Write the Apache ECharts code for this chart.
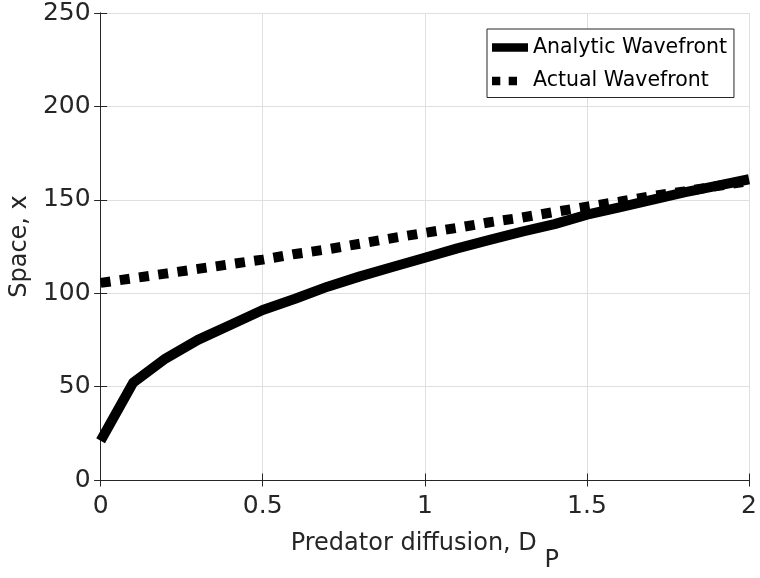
<!DOCTYPE html>
<html>
<head>
<meta charset="utf-8">
<script src="https://cdn.jsdelivr.net/npm/echarts@6/dist/echarts.min.js"></script>
<style>html,body{margin:0;padding:0;background:#fff}#c{width:760px;height:578px}</style>
</head>
<body>
<div id="c"></div>
<script>
const diffusion = [0, 0.1, 0.2, 0.3, 0.4, 0.5, 0.6, 0.7, 0.8, 0.9, 1.0, 1.1, 1.2, 1.3, 1.4, 1.5, 1.6, 1.7, 1.8, 1.9, 2.0];
const analytic = [21, 52, 65, 75, 83, 91, 97, 103.5, 109, 114, 119, 124, 128.5, 133, 137, 142, 146, 150, 154, 157.5, 161];
const actual = [105.5, 108, 110.5, 113, 115.5, 118, 121, 123.5, 126.5, 129.5, 132.3, 135, 138, 140.5, 143.5, 146.3, 149, 152, 154.5, 157.3, 160];
const xTicks = [0, 0.5, 1, 1.5, 2];
const yTicks = [0, 50, 100, 150, 200, 250];
const seriesNames = ['Analytic Wavefront', 'Actual Wavefront'];

const pairs = (ys) => diffusion.map((d, i) => [d, ys[i]]);
const txt = '#262626';
const font = '"DejaVu Sans", Verdana, sans-serif';

const chart = echarts.init(document.getElementById('c'), null, {renderer: 'canvas'});
const baseAxis = {
  axisLine: {show: true, lineStyle: {color: txt, width: 1}},
  axisTick: {show: true, inside: true, length: 6.5, lineStyle: {color: txt}},
  splitLine: {show: false},
  axisLabel: {show: false}
};
chart.setOption({
  animation: false,
  backgroundColor: '#fff',
  grid: {left: 98, right: 10, top: 13, bottom: 91, containLabel: false},
  legend: {
    orient: 'vertical',
    left: 487, top: 29,
    padding: [8, 7, 6, 5],
    itemGap: 12.5,
    itemWidth: 36,
    itemHeight: 8.5,
    borderColor: txt,
    borderWidth: 1,
    backgroundColor: '#fff',
    itemStyle: {color: '#000', borderWidth: 0},
    textStyle: {fontFamily: font, fontSize: 20.5, color: '#000'},
    data: [
      {name: seriesNames[0], icon: 'path://M0,0H36V8.5H0Z'},
      {name: seriesNames[1], icon: 'path://M0,0H8.3V8.5H0Z M16.7,0H25V8.5H16.7Z M36,8.5'}
    ]
  },
  xAxis: [
    Object.assign({}, baseAxis, {
      type: 'value', min: xTicks[0], max: xTicks[xTicks.length - 1], interval: 0.5,
      position: 'bottom',
      splitLine: {show: true, lineStyle: {color: '#dfdfdf', width: 1}},
      axisLabel: {show: true, color: txt, fontFamily: font, fontSize: 25, margin: 14,
        formatter: v => String(v)},
      name: '{a|Predator diffusion, D }{s|P}',
      nameLocation: 'middle',
      nameGap: 52,
      nameTextStyle: {
        color: txt, fontFamily: font, fontSize: 24,
        rich: {
          a: {fontFamily: font, fontSize: 24, lineHeight: 24, color: txt, verticalAlign: 'top'},
          s: {fontFamily: font, fontSize: 24, lineHeight: 24, color: txt, verticalAlign: 'top', padding: [17, 0, 0, 0]}
        }
      }
    }),
    Object.assign({}, baseAxis, {
      type: 'value', min: 0, max: 2, interval: 0.5, position: 'top'
    })
  ],
  yAxis: [
    Object.assign({}, baseAxis, {
      type: 'value', min: yTicks[0], max: yTicks[yTicks.length - 1], interval: 50,
      position: 'left',
      splitLine: {show: true, lineStyle: {color: '#dfdfdf', width: 1}},
      axisLabel: {show: true, color: txt, fontFamily: font, fontSize: 25, margin: 10},
      name: 'Space, x',
      nameLocation: 'middle',
      nameGap: 62,
      nameTextStyle: {color: txt, fontFamily: font, fontSize: 24}
    }),
    Object.assign({}, baseAxis, {
      type: 'value', min: 0, max: 250, interval: 50, position: 'right'
    })
  ],
  series: [
    {
      name: seriesNames[0], type: 'line', data: pairs(analytic),
      xAxisIndex: 0, yAxisIndex: 0,
      symbol: 'none', smooth: false,
      lineStyle: {color: '#000', width: 10, join: 'round'},
      itemStyle: {color: '#000'},
      z: 3
    },
    {
      name: seriesNames[1], type: 'line', data: pairs(actual),
      xAxisIndex: 0, yAxisIndex: 0,
      symbol: 'none', smooth: false,
      lineStyle: {color: '#000', width: 10, type: [10, 9.4], cap: 'butt'},
      itemStyle: {color: '#000'},
      z: 4
    }
  ]
});
</script>
</body>
</html>
